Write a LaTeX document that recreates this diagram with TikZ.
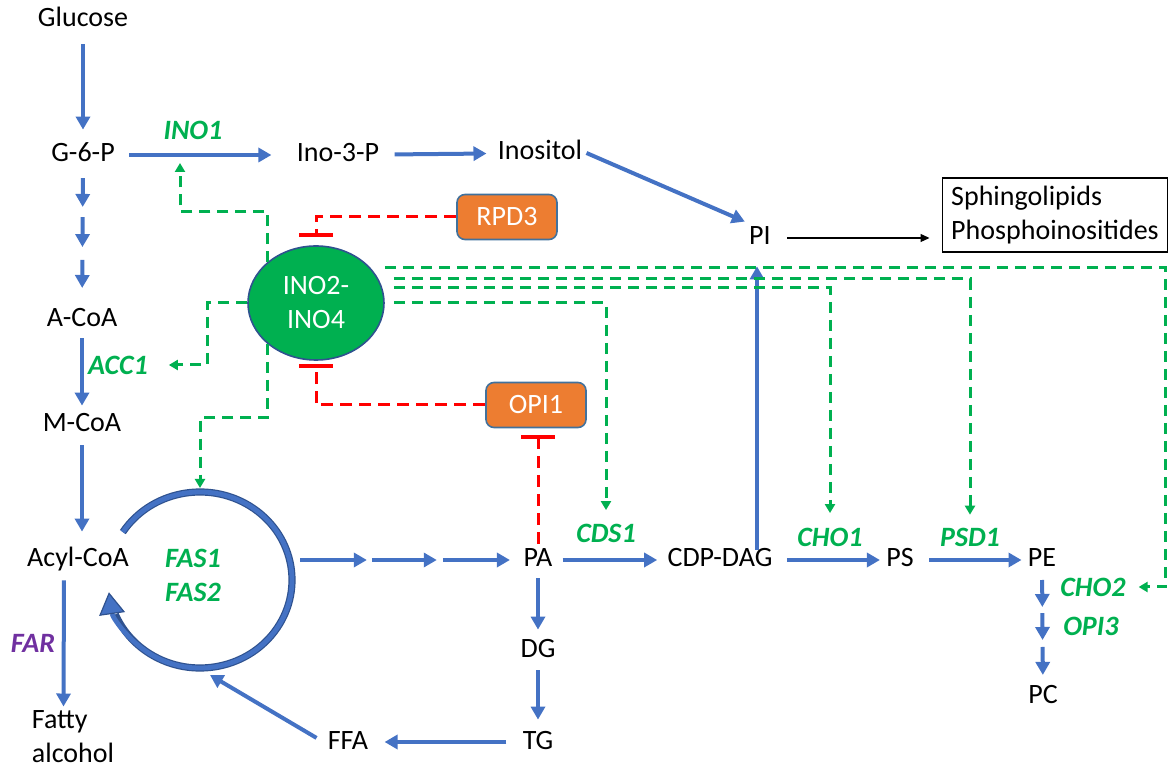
\documentclass[tikz,border=0pt]{standalone}
\usepackage{fontspec}
\setmainfont{Carlito}
\usepackage{xcolor}
\usepackage{tikz}
\usetikzlibrary{arrows.meta,calc,shapes.geometric}
\definecolor{flowBlue}{HTML}{4472C4}
\definecolor{flowBlueDk}{HTML}{2F528F}
\definecolor{geneGreen}{HTML}{00B050}
\definecolor{stopRed}{HTML}{FF0000}
\definecolor{regOrange}{HTML}{ED7D31}
\definecolor{regEdge}{HTML}{41719C}
\definecolor{farPurple}{HTML}{7030A0}
\newcommand{\geneword}[1]{\textcolor{geneGreen}{\textbf{\textit{#1}}}}
\tikzset{
  met/.style={inner sep=2pt, text height=9.5pt, text depth=2.5pt},
  flow/.style={draw=flowBlue, line width=2pt, -{Triangle[length=6.5pt,width=7pt]}},
  induce/.style={draw=geneGreen, line width=1.5pt, dash pattern=on 5.5pt off 3.5pt,
                 -{Triangle[length=4.5pt,width=5pt]}},
  repress/.style={draw=stopRed, line width=1.5pt, dash pattern=on 6pt off 3.5pt,
                  -{Bar[width=17pt,line width=2pt]}},
  tf/.style={ellipse, draw=flowBlueDk, line width=0.8pt, fill=geneGreen, text=white,
             align=center, minimum width=68pt, minimum height=57pt, inner sep=0pt},
  reg/.style={rectangle, rounded corners=4pt, draw=regEdge, line width=0.8pt,
              fill=regOrange, text=white, minimum width=50pt, minimum height=22.5pt},
  cycbase/.style={draw=flowBlueDk, line width=3.6pt},
  cycflow/.style={draw=flowBlue, line width=2.4pt,
                  -{Triangle[length=11pt,width=13pt,fill=flowBlue,color=flowBlueDk,line width=0.6pt]}}
}

\begin{document}
\begin{tikzpicture}[x=0.5pt, y=-0.5pt, font=\fontsize{14}{17}\selectfont]
  \useasboundingbox (0,0) rectangle (1173,769);

  % metabolites
  \node[met] (glc)   at (83,20)   {Glucose};
  \node[met] (g6p)   at (83,155)  {G-6-P};
  \node[met] (ino3p) at (338,155) {Ino-3-P};
  \node[met] (inos)  at (540,153) {Inositol};
  \node[met] (pi)    at (760,238) {PI};
  \node[draw, line width=0.7pt, align=left, inner xsep=4.5pt, inner ysep=4pt]
       (lipids) at (1055,215) {Sphingolipids\\Phosphoinositides};
  \node[met] (acoa)  at (82,320)  {A-CoA};
  \node[met] (mcoa)  at (82,425)  {M-CoA};
  \node[met] (acyl)  at (78,560)  {Acyl-CoA};
  \node[align=left, inner sep=2pt] (fatty) at (73,737) {Fatty\\alcohol};
  \node[met] (pa)    at (538,560) {PA};
  \node[met] (cdp)   at (720,560) {CDP-DAG};
  \node[met] (ps)    at (900,560) {PS};
  \node[met] (pe)    at (1042,560) {PE};
  \node[met] (pc)    at (1043,697) {PC};
  \node[met] (dg)    at (538,651) {DG};
  \node[met] (tg)    at (538,742) {TG};
  \node[met] (ffa)   at (348,742) {FFA};

  % enzymes
  \node (ino1) at (193,130) {\geneword{INO1}};
  \node (acc1) at (118,365) {\geneword{ACC1}};
  \node[align=center] (fas) at (193,575) {\geneword{FAS1}\\\geneword{FAS2}};
  \node (far)  at (33,643)  {\textcolor{farPurple}{\textbf{\textit{FAR}}}};
  \node (cds1) at (606,533) {\geneword{CDS1}};
  \node (cho1) at (830,537) {\geneword{CHO1}};
  \node (psd1) at (970,537) {\geneword{PSD1}};
  \node (cho2) at (1093,587) {\geneword{CHO2}};
  \node (opi3) at (1091,626) {\geneword{OPI3}};

  % regulators
  \node[tf]  (ino24) at (316,303) {INO2-\\INO4};
  \node[reg] (rpd3)  at (507,217) {RPD3};
  \node[reg] (opi1)  at (536,405) {OPI1};

  \coordinate (ino1in) at (180,163);
  \coordinate (fastop) at (200,488);
  \coordinate (fascyc) at (200,580);
  \coordinate (fasin)  at (210,675);

  % main flow
  \draw[flow, shorten <=4pt, shorten >=4.5pt] (glc) -- (g6p);
  \draw[flow, shorten <=5pt, shorten >=10.5pt] (g6p) -- (ino3p);
  \draw[flow, shorten <=5.5pt, shorten >=3.5pt] (ino3p) -- (inos);
  \draw[flow] (inos.east) -- (pi.north west);
  \draw[-{Triangle[length=4.5pt,width=4pt]}, line width=0.6pt, shorten <=6pt, shorten >=6pt]
       (pi.east) -- (pi.east -| lipids.west);
  \foreach \a/\b in {.14/.315, .376/.558, .636/.806}
    \draw[flow] ($(g6p)!\a!(acoa)$) -- ($(g6p)!\b!(acoa)$);
  \draw[flow, shorten <=1pt, shorten >=1.5pt] (acoa) -- (acoa |- mcoa.north);
  \draw[flow, shorten <=2pt, shorten >=6pt] (mcoa) -- (mcoa |- acyl.north);
  \draw[flow, shorten <=2pt] ([xshift=-7pt]acyl.south) -- ([xshift=-4.75pt]fatty.north);
  \foreach \a/\b in {.483/.628, .639/.780, .793/.939}
    \draw[flow] ($(acyl)!\a!(pa)$) -- ($(acyl)!\b!(pa)$);
  \draw[flow, shorten <=3pt, shorten >=3pt] (pa) -- (cdp);
  \draw[flow, shorten <=5pt, shorten >=1pt] (cdp) -- (ps);
  \draw[flow, shorten <=5.5pt, shorten >=1pt] (ps) -- (pe);
  \foreach \a/\b in {.146/.343, .387/.584, .635/.839}
    \draw[flow] ($(pe)!\a!(pc)$) -- ($(pe)!\b!(pc)$);
  \draw[flow, shorten <=-3pt, shorten >=6pt] ([xshift=-1.5pt]cdp.north -| pi.south) -- ([xshift=-1.5pt]pi.south);
  \draw[flow, shorten <=1pt, shorten >=2.5pt] (pa) -- (dg);
  \draw[flow, shorten <=1.5pt, shorten >=3pt] (dg) -- (tg);
  \draw[flow, shorten <=6pt, shorten >=6pt] (tg) -- (ffa);
  \draw[flow, shorten <=4pt] (ffa.west) -- (fasin);

  % fatty acid synthase cycle
  \draw[cycbase] (fascyc) ++(-147:92 and 88) arc[start angle=-147, end angle=157, x radius=92, y radius=88];
  \draw[cycflow] (fascyc) ++(-147:92 and 88) arc[start angle=-147, end angle=172, x radius=92, y radius=88];

  % INO2-INO4 activation
  \draw[induce] (ino24.140) -- ++(0,-51) -| (ino1in);
  \draw[induce, shorten >=7pt] (ino24.west) -- ++(-40,0) |- (acc1.east);
  \draw[induce] (ino24.220) -- ++(0,74) -| (fastop);
  \draw[induce, shorten >=3.3pt] ([xshift=4.5pt]ino24.east) -| (cds1.north);
  \draw[induce, shorten >=3.8pt] ([xshift=4.5pt,yshift=7.5pt]ino24.east) -| (cho1.north);
  \draw[induce, shorten >=3pt] ([xshift=4.5pt,yshift=12pt]ino24.east) -| (psd1.north);
  \draw[induce, shorten >=3pt] ([yshift=17.5pt]ino24.east) -- ++(781,0) |- (cho2.east);

  % repression
  \draw[repress] (rpd3.west) -| ([yshift=4pt]ino24.north);
  \draw[repress] (opi1.west) -| ([yshift=-1.5pt]ino24.south);
  \draw[repress] (pa.north) -- ($(pa.north |- opi1.south)+(0,7)$);
\end{tikzpicture}
\end{document}
